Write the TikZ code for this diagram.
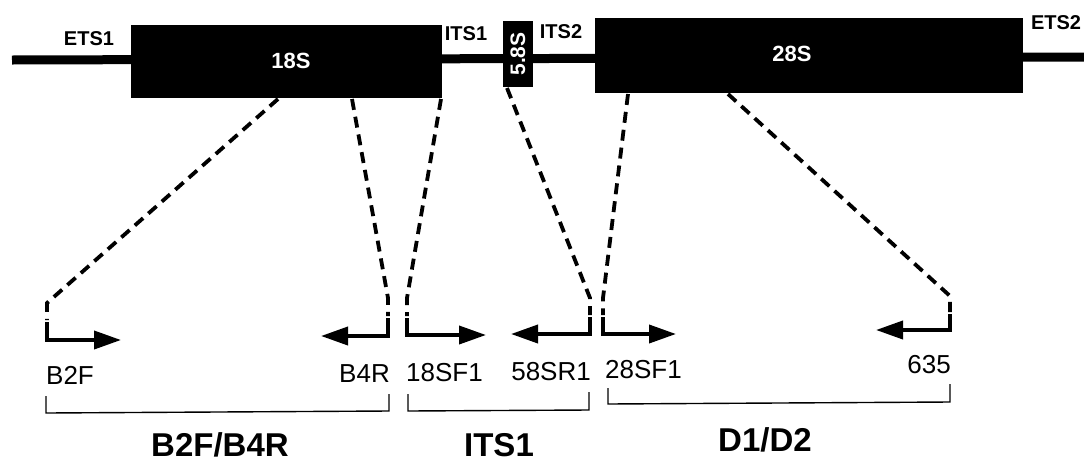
\documentclass[tikz,border=0pt]{standalone}
\usepackage{fontspec}
\setmainfont{Liberation Sans}
\usetikzlibrary{arrows.meta}
\begin{document}
\begin{tikzpicture}[x=1pt,y=-1pt,
  rrna/.style={fill=black,draw=none,inner sep=0pt},
  rrnatext/.style={text=white,font=\fontsize{22}{26}\selectfont\bfseries,inner sep=0pt},
  toplab/.style={font=\fontsize{20}{24}\selectfont\bfseries,inner sep=0pt},
  plab/.style={font=\fontsize{26}{30}\selectfont,inner sep=0pt},
  biglab/.style={font=\fontsize{33}{38}\selectfont\bfseries,inner sep=0pt},
  zoomline/.style={line width=3.8pt,dash pattern=on 11pt off 7pt},
  primer/.style={line width=3.8pt,-{Triangle[length=27pt,width=18pt]}},
  bracket/.style={line width=1.4pt}]
\fill[white] (0,0) rectangle (1084,464);
\useasboundingbox (0,0) rectangle (1084,464);
% backbone
\coordinate (L) at (12,60);
\coordinate (R) at (1084,57);
\draw[line width=9pt] (L) -- (R);
% rRNA blocks
\node[rrna,minimum width=311pt,minimum height=73pt] (s18) at (286.5,61.5) {};
\node[rrna,minimum width=30pt,minimum height=66pt] (s58) at (518,54) {};
\node[rrna,minimum width=428pt,minimum height=75pt] (s28) at (809,55.5) {};
\node[rrnatext] (t18) at (291,61) {18S};
\node[rrnatext,rotate=90,font=\fontsize{21}{24}\selectfont\bfseries] (t58) at (518,54) {5.8S};
\node[rrnatext] (t28) at (792,54) {28S};
% spacer labels
\node[toplab] (ets1) at (89,39) {ETS1};
\node[toplab] (its1t) at (466,34) {ITS1};
\node[toplab] (its2t) at (561,32) {ITS2};
\node[toplab] (ets2) at (1056,23) {ETS2};
% start points on blocks
\coordinate (a1) at (278,99);
\coordinate (a2) at (352,99);
\coordinate (a3) at (441,99);
\coordinate (a4) at (507,88);
\coordinate (a5) at (628,94);
\coordinate (a6) at (728,94);
% corners
\coordinate (c1) at (47,303);   \coordinate (d1) at (47,320);
\coordinate (c2) at (388,298);  \coordinate (d2) at (388,316);
\coordinate (c3) at (407,298);  \coordinate (d3) at (407,316);
\coordinate (c4) at (590,298);  \coordinate (d4) at (590,315);
\coordinate (c5) at (603,298);  \coordinate (d5) at (603,315);
\coordinate (c6) at (950,296);  \coordinate (d6) at (950,312);
\draw[zoomline] (a1) -- (c1) -- (d1);
\draw[zoomline] (a2) -- (c2) -- (d2);
\draw[zoomline] (a3) -- (c3) -- (d3);
\draw[zoomline] (a4) -- (c4) -- (d4);
\draw[zoomline] (a5) -- (c5) -- (d5);
\draw[zoomline] (a6) -- (c6) -- (d6);
% primer arrows
\coordinate (e1) at (47,322);  \coordinate (f1) at (47,340);  \coordinate (t1) at (121,340);
\coordinate (e2) at (388,318); \coordinate (f2) at (388,336); \coordinate (t2) at (321,336);
\coordinate (e3) at (407,318); \coordinate (f3) at (407,335); \coordinate (t3) at (486,335);
\coordinate (e4) at (590,317); \coordinate (f4) at (590,334); \coordinate (t4) at (511,334);
\coordinate (e5) at (603,317); \coordinate (f5) at (603,334); \coordinate (t5) at (676,334);
\coordinate (e6) at (950,314); \coordinate (f6) at (950,330); \coordinate (t6) at (876,330);
\draw[primer] (e1) -- (f1) -- (t1);
\draw[primer] (e2) -- (f2) -- (t2);
\draw[primer] (e3) -- (f3) -- (t3);
\draw[primer] (e4) -- (f4) -- (t4);
\draw[primer] (e5) -- (f5) -- (t5);
\draw[primer] (e6) -- (f6) -- (t6);
% primer labels
\node[plab,anchor=west] (b2f) at (46,375) {B2F};
\node[plab,anchor=east] (b4r) at (390,374) {B4R};
\node[plab,anchor=west] (sf1) at (406,373) {18SF1};
\node[plab,anchor=east] (sr1) at (591,372) {58SR1};
\node[plab,anchor=west] (f28) at (605,370) {28SF1};
\node[plab,anchor=east] (p635) at (951,365) {635};
% brackets
\draw[bracket] (46,396) -- (46,413) -- (389,411) -- (389,394);
\draw[bracket] (408,394) -- (408,411) -- (589,410) -- (589,392);
\draw[bracket] (608,388) -- (608,404) -- (950,402) -- (950,384);
% region labels
\node[biglab] (g1) at (220,445) {B2F/B4R};
\node[biglab] (g2) at (499,445) {ITS1};
\node[biglab] (g3) at (765,440) {D1/D2};
\end{tikzpicture}
\end{document}
